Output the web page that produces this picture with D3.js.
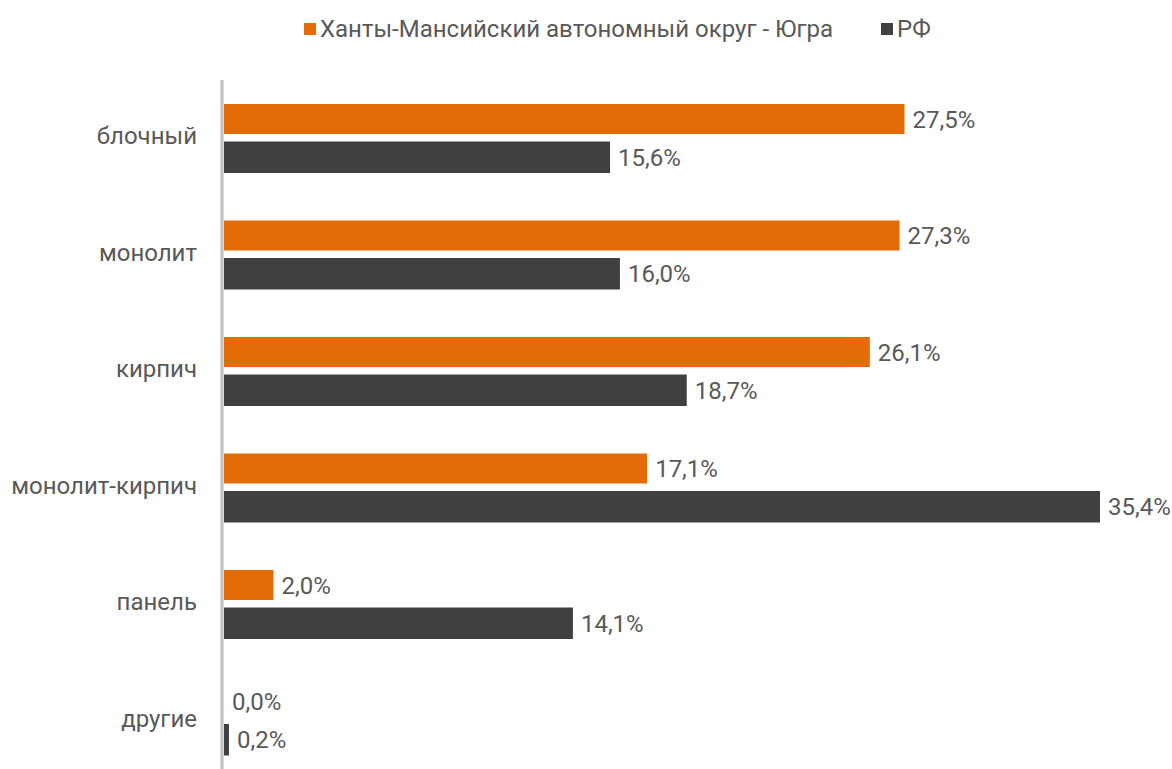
<!DOCTYPE html>
<html><head><meta charset="utf-8">
<script src="https://cdn.jsdelivr.net/npm/d3@7"></script>
<style>body{margin:0;background:#fff;font-family:Roboto,"Open Sans",sans-serif}</style>
</head><body><svg id="c" width="1172" height="769"></svg>
<script>
const categories = ["блочный","монолит","кирпич","монолит-кирпич","панель","другие"];
const seriesNames = ["Ханты-Мансийский автономный округ - Югра","РФ"];
const ugra = [27.5,27.3,26.1,17.1,2.0,0.0];
const rf = [15.6,16.0,18.7,35.4,14.1,0.2];
const colors = ["#E36C09","#404040"];

const svg = d3.select("#c");
const x = d3.scaleLinear().domain([0,35.4]).range([224,1100]);
const y = d3.scaleBand().domain(categories).range([79.75,778.75]);
const fmt = v => d3.format(".1f")(v).replace(".",",")+"%";
const FS = 24, TXT = "#595959";

// axis line
svg.append("line").attr("x1",222).attr("x2",222).attr("y1",80).attr("y2",769)
  .attr("stroke","#bfbfbf").attr("stroke-width",3);

const series = [ugra, rf];
const offs = [[-34,30],[3.5,31.5]];
series.forEach((vals,si)=>{
  const g = svg.append("g");
  categories.forEach((c,i)=>{
    const cy = y(c)+y.bandwidth()/2;
    const y0 = cy+offs[si][0], h = offs[si][1];
    const w = x(vals[i])-x(0);
    if (w>0) g.append("rect").attr("x",x(0)).attr("y",y0).attr("width",w).attr("height",h).attr("fill",colors[si]);
    g.append("text").attr("x",x(vals[i])+8).attr("y",y0+h/2+8.5)
      .attr("font-size",FS).attr("fill",TXT).text(fmt(vals[i]));
  });
});

// category labels
categories.forEach(c=>{
  svg.append("text").attr("x",197).attr("y",y(c)+y.bandwidth()/2+6)
    .attr("text-anchor","end").attr("font-size",FS).attr("fill",TXT).text(c);
});

// legend
const leg = [{x:304,tx:320},{x:881,tx:897}];
seriesNames.forEach((n,i)=>{
  svg.append("rect").attr("x",leg[i].x).attr("y",23).attr("width",12).attr("height",12).attr("fill",colors[i]);
  svg.append("text").attr("x",leg[i].tx).attr("y",37).attr("font-size",FS)
    .attr("fill",TXT).text(n);
});
</script></body></html>
